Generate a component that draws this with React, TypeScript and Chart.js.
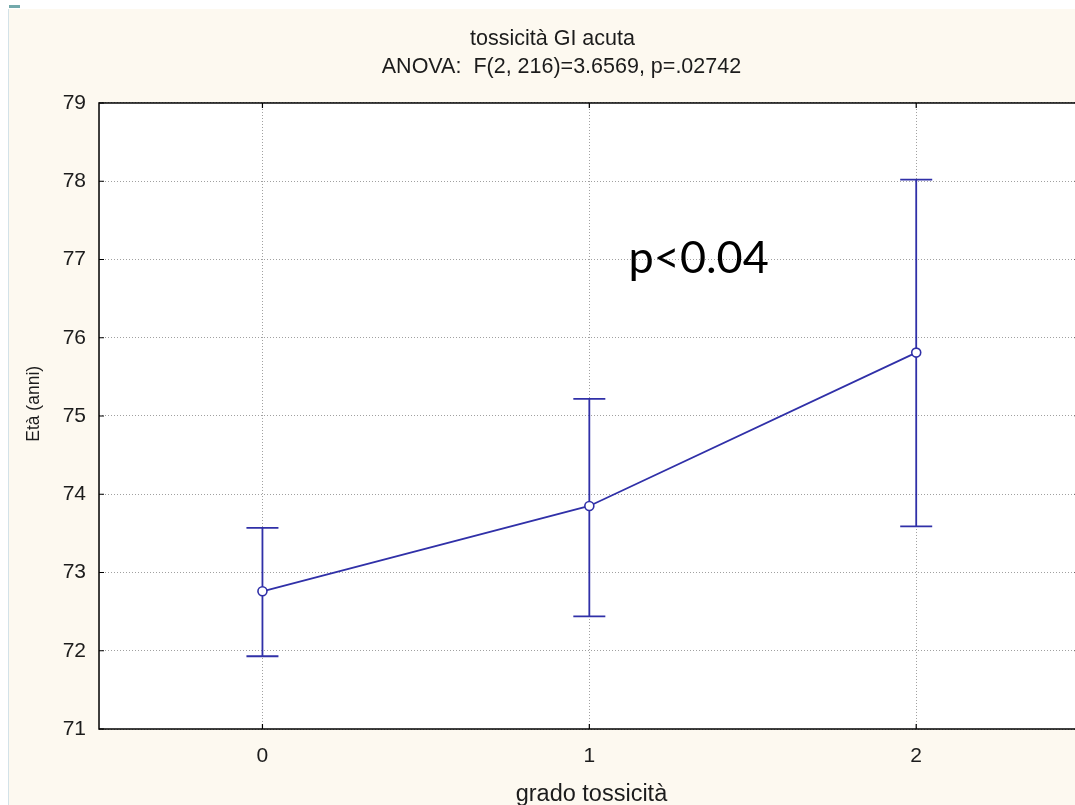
import React, { useEffect, useRef } from "react";
import { Chart, registerables } from "chart.js";

Chart.register(...registerables);

// ---- data ----
const CATEGORIES = [0, 1, 2];
const MEANS = [72.76, 73.85, 75.81];
const UPPER = [73.57, 75.22, 78.02];
const LOWER = [71.93, 72.44, 73.59];
const X_TICKS = [0, 1, 2];
const Y_MIN = 71;
const Y_MAX = 79;
const X_MIN = -0.5;
const X_FRAME_MAX = 2.5;
const X_VIEW_MAX = 2.513;
const TITLE_LINES = ["tossicità GI acuta", "   ANOVA:  F(2, 216)=3.6569, p=.02742"];
const X_TITLE = "grado tossicità";
const Y_TITLE = "     Età (anni)";
const ANNOTATION = "p<0.04";
const ANNOTATION_AT = { x: 1.12, y: 76.83 };

// ---- style ----
const BLUE = "#3030A8";
const TEXT = "#1c1c1c";
const FONT = '"Liberation Sans", Arial, sans-serif';
const CAP = 16;
const TICK = 5;

const decor = {
  id: "decor",
  beforeDraw(chart: any) {
    const { ctx, chartArea, scales } = chart;
    const right = scales.x.getPixelForValue(X_FRAME_MAX);
    ctx.save();
    ctx.fillStyle = "#ffffff";
    ctx.fillRect(chartArea.left, chartArea.top, right - chartArea.left, chartArea.bottom - chartArea.top);
    ctx.restore();
  },
  beforeDatasetsDraw(chart: any) {
    const { ctx, scales } = chart;
    const { x, y } = scales;
    ctx.save();
    ctx.strokeStyle = BLUE;
    ctx.lineWidth = 1.8;
    CATEGORIES.forEach((c, i) => {
      const px = x.getPixelForValue(c);
      const pu = y.getPixelForValue(UPPER[i]);
      const pl = y.getPixelForValue(LOWER[i]);
      ctx.beginPath();
      ctx.moveTo(px, pu);
      ctx.lineTo(px, pl);
      ctx.moveTo(px - CAP, pu);
      ctx.lineTo(px + CAP, pu);
      ctx.moveTo(px - CAP, pl);
      ctx.lineTo(px + CAP, pl);
      ctx.stroke();
    });
    ctx.restore();
  },
  afterDatasetsDraw(chart: any) {
    const { ctx, chartArea, scales } = chart;
    const { x, y } = scales;
    const left = chartArea.left;
    const top = chartArea.top;
    const bottom = chartArea.bottom;
    const right = x.getPixelForValue(X_FRAME_MAX);
    ctx.save();
    ctx.strokeStyle = "#000";
    ctx.lineWidth = 1.5;
    ctx.strokeRect(left, top, right - left, bottom - top);
    ctx.lineWidth = 1.2;
    ctx.beginPath();
    X_TICKS.forEach((v) => {
      const px = x.getPixelForValue(v);
      ctx.moveTo(px, bottom);
      ctx.lineTo(px, bottom - TICK);
      ctx.moveTo(px, top);
      ctx.lineTo(px, top + TICK);
    });
    y.ticks.forEach((t: any) => {
      const py = y.getPixelForValue(t.value);
      ctx.moveTo(left, py);
      ctx.lineTo(left + TICK, py);
      ctx.moveTo(right, py);
      ctx.lineTo(right - TICK, py);
    });
    ctx.stroke();
    ctx.fillStyle = "#000";
    ctx.font = '45px Lato, "Open Sans", sans-serif';
    ctx.textBaseline = "alphabetic";
    ctx.textAlign = "left";
    ctx.fillText(ANNOTATION, x.getPixelForValue(ANNOTATION_AT.x), y.getPixelForValue(ANNOTATION_AT.y));
    ctx.restore();
  },
};

export default function App() {
  const ref = useRef<HTMLCanvasElement | null>(null);

  useEffect(() => {
    if (!ref.current) return;
    const chart = new Chart(ref.current, {
      type: "line",
      data: {
        datasets: [
          {
            data: CATEGORIES.map((c, i) => ({ x: c, y: MEANS[i] })),
            borderColor: BLUE,
            borderWidth: 1.8,
            pointRadius: 4.5,
            pointBorderWidth: 1.6,
            pointBackgroundColor: "#ffffff",
            pointBorderColor: BLUE,
            fill: false,
            tension: 0,
          },
        ],
      },
      options: {
        animation: false,
        responsive: false,
        devicePixelRatio: 1,
        layout: { padding: { left: 6, right: 0, top: 0, bottom: 0.2 } },
        plugins: {
          legend: { display: false },
          tooltip: { enabled: false },
          title: {
            display: true,
            text: TITLE_LINES,
            color: TEXT,
            font: { family: FONT, size: 21.5, weight: "normal", lineHeight: 1.302 },
            padding: { top: 16, bottom: 22 },
          },
        },
        scales: {
          x: {
            type: "linear",
            min: X_MIN,
            max: X_VIEW_MAX,
            afterBuildTicks: (s: any) => {
              s.ticks = X_TICKS.map((v) => ({ value: v }));
            },
            grid: { color: "#a0a0a0", lineWidth: 1, drawTicks: false },
            border: { display: false, dash: [1, 2] },
            ticks: {
              padding: 15,
              color: TEXT,
              font: { family: FONT, size: 21 },
              callback: (v: any) => String(v),
            },
            title: {
              display: true,
              text: X_TITLE,
              color: TEXT,
              font: { family: FONT, size: 23.5 },
              padding: { top: -3.6, bottom: 0 },
            },
          },
          y: {
            type: "linear",
            min: Y_MIN,
            max: Y_MAX,
            grid: { color: "#a0a0a0", lineWidth: 1, drawTicks: false },
            border: { display: false, dash: [1, 2] },
            ticks: {
              stepSize: 1,
              padding: 13,
              color: TEXT,
              font: { family: FONT, size: 21 },
            },
            title: {
              display: true,
              text: Y_TITLE,
              color: TEXT,
              font: { family: FONT, size: 17.5 },
              padding: { top: 9, bottom: 4.65 },
            },
          },
        },
      },
      plugins: [decor],
    } as any);
    return () => chart.destroy();
  }, []);

  return (
    <>
      <div
        style={{
          position: "fixed",
          left: 9,
          top: 5,
          width: 11,
          height: 3,
          background: "#73A9AB",
        }}
      />
      <div
        style={{
          position: "fixed",
          left: 8,
          top: 9,
          width: 1066,
          height: 796,
          overflow: "hidden",
          background: "#FDF9F0",
          borderLeft: "1px solid #D3E2E8",
        }}
      >
        <canvas ref={ref} width={1081} height={800} style={{ display: "block" }} />
      </div>
    </>
  );
}
